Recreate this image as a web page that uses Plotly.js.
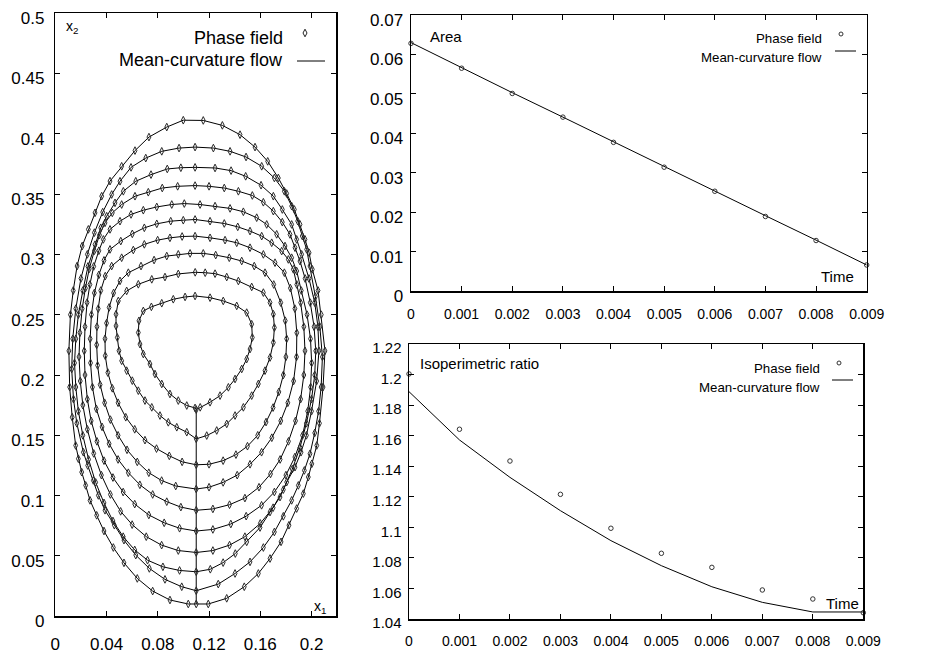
<!DOCTYPE html>
<html>
<head>
<meta charset="utf-8">
<script src="https://cdn.plot.ly/plotly-3.0.1.min.js"></script>
<style>
  html, body { margin: 0; padding: 0; background: #fff; }
  #chart { width: 952px; height: 654px; }
</style>
</head>
<body>
<div id="chart"></div>
<script>
// Interface positions (x1, x2) of the evolving front, outermost to innermost.
// Each front starts and ends at its lowest point on x1 = 0.11.
const front1 = [[0.110,0.0102],[0.1194,0.0102],[0.1338,0.0149],[0.1475,0.0245],[0.1585,0.0355],[0.1676,0.0479],[0.1762,0.0617],[0.1824,0.0755],[0.1884,0.0893],[0.1936,0.1017],[0.1975,0.1154],[0.2002,0.1264],[0.2041,0.1416],[0.2062,0.160],[0.2090,0.190],[0.2105,0.220],[0.2076,0.250],[0.2051,0.270],[0.2006,0.2876],[0.1981,0.3013],[0.1949,0.3124],[0.1910,0.3248],[0.1866,0.3372],[0.1806,0.3504],[0.1741,0.3633],[0.1658,0.3771],[0.1559,0.3889],[0.1442,0.3992],[0.1304,0.4069],[0.1155,0.4110],[0.0999,0.4112],[0.0870,0.4055],[0.0731,0.3972],[0.0622,0.3860],[0.0518,0.3730],[0.0427,0.3607],[0.0362,0.3482],[0.0310,0.3344],[0.0258,0.3207],[0.0210,0.3069],[0.0170,0.2903],[0.0140,0.270],[0.0118,0.250],[0.0106,0.220],[0.0112,0.190],[0.0132,0.165],[0.0159,0.1416],[0.0180,0.1306],[0.0206,0.1195],[0.0237,0.1085],[0.0271,0.0961],[0.0323,0.0837],[0.0380,0.0707],[0.0453,0.0570],[0.0536,0.0443],[0.0640,0.0314],[0.0760,0.0209],[0.0895,0.0135],[0.1038,0.0102],[0.110,0.0102]];
const front2 = [[0.110,0.0212],[0.1272,0.0267],[0.1403,0.0355],[0.1520,0.0451],[0.1624,0.0570],[0.1710,0.0699],[0.1780,0.0829],[0.1845,0.0961],[0.1897,0.1085],[0.1944,0.1209],[0.1988,0.1347],[0.2025,0.152],[0.2055,0.170],[0.2075,0.190],[0.2085,0.215],[0.2065,0.240],[0.2030,0.265],[0.1988,0.2903],[0.1962,0.3041],[0.1928,0.3152],[0.1892,0.3276],[0.1845,0.3400],[0.1788,0.3523],[0.1710,0.3633],[0.1611,0.3730],[0.1489,0.3807],[0.1364,0.3854],[0.1234,0.3881],[0.1091,0.3889],[0.0966,0.3881],[0.0831,0.3854],[0.0706,0.3798],[0.0591,0.3721],[0.0505,0.3606],[0.0440,0.3496],[0.0370,0.335],[0.0305,0.318],[0.0250,0.300],[0.0200,0.280],[0.0160,0.255],[0.0136,0.230],[0.0128,0.205],[0.0142,0.180],[0.0168,0.160],[0.0219,0.1360],[0.0253,0.1250],[0.0297,0.1126],[0.0336,0.1002],[0.0388,0.0879],[0.0461,0.0755],[0.0536,0.0631],[0.0628,0.0507],[0.0734,0.0397],[0.0856,0.0306],[0.0987,0.0245],[0.110,0.0212]];
const front3 = [[0.110,0.0369],[0.121,0.039],[0.131,0.0445],[0.1405,0.052],[0.1494,0.0617],[0.1598,0.0736],[0.1676,0.0864],[0.1754,0.0988],[0.1806,0.1112],[0.1871,0.1236],[0.1918,0.1360],[0.1960,0.150],[0.2000,0.170],[0.2040,0.195],[0.2058,0.220],[0.2050,0.240],[0.2025,0.260],[0.1980,0.280],[0.1923,0.300],[0.1884,0.3124],[0.1845,0.3248],[0.1772,0.3372],[0.1702,0.3482],[0.1606,0.3573],[0.1486,0.3647],[0.1372,0.3694],[0.1247,0.3716],[0.1091,0.3721],[0.0980,0.3718],[0.0874,0.3708],[0.0747,0.3661],[0.0628,0.3606],[0.0531,0.3523],[0.0466,0.3427],[0.0401,0.3316],[0.0355,0.322],[0.0310,0.308],[0.0255,0.290],[0.0215,0.270],[0.0180,0.250],[0.0160,0.230],[0.0150,0.210],[0.0160,0.190],[0.0180,0.170],[0.0215,0.150],[0.0260,0.130],[0.0315,0.111],[0.0380,0.094],[0.0450,0.079],[0.0530,0.066],[0.0620,0.055],[0.0720,0.0465],[0.0840,0.0410],[0.0970,0.0380],[0.110,0.0369]];
const front4 = [[0.110,0.0529],[0.123,0.0545],[0.136,0.059],[0.148,0.066],[0.160,0.077],[0.170,0.090],[0.178,0.105],[0.185,0.122],[0.191,0.140],[0.196,0.160],[0.200,0.180],[0.2025,0.200],[0.2033,0.220],[0.2020,0.240],[0.1990,0.260],[0.1950,0.280],[0.1910,0.2944],[0.1871,0.3055],[0.1832,0.3165],[0.1772,0.3267],[0.1702,0.3358],[0.1624,0.3432],[0.1538,0.3488],[0.1429,0.3523],[0.1319,0.3550],[0.1200,0.3564],[0.1091,0.3570],[0.0955,0.3564],[0.0835,0.3550],[0.0726,0.3515],[0.0622,0.3482],[0.0518,0.3413],[0.0445,0.3344],[0.0388,0.3261],[0.0345,0.316],[0.0305,0.303],[0.0265,0.288],[0.0235,0.272],[0.0210,0.255],[0.0192,0.235],[0.0185,0.215],[0.0195,0.195],[0.0215,0.175],[0.0250,0.155],[0.0300,0.135],[0.0360,0.117],[0.0430,0.101],[0.0510,0.087],[0.0600,0.076],[0.0710,0.066],[0.0830,0.059],[0.0960,0.0545],[0.110,0.0529]];
const front5 = [[0.110,0.0707],[0.123,0.072],[0.137,0.0765],[0.149,0.083],[0.161,0.092],[0.171,0.103],[0.180,0.117],[0.187,0.132],[0.193,0.150],[0.197,0.170],[0.1993,0.190],[0.2001,0.210],[0.1992,0.230],[0.1965,0.250],[0.1920,0.270],[0.1884,0.2862],[0.1845,0.2972],[0.1793,0.3069],[0.1728,0.3166],[0.1650,0.3248],[0.1572,0.3304],[0.1468,0.3353],[0.1364,0.3381],[0.1247,0.3400],[0.1130,0.3413],[0.1007,0.3421],[0.0909,0.3413],[0.0792,0.3393],[0.0687,0.3366],[0.0591,0.3331],[0.0505,0.3275],[0.0427,0.3207],[0.0375,0.3124],[0.0340,0.303],[0.0300,0.290],[0.0270,0.275],[0.0248,0.260],[0.0232,0.240],[0.0226,0.220],[0.0232,0.200],[0.0250,0.180],[0.0280,0.162],[0.0325,0.145],[0.0380,0.129],[0.0450,0.115],[0.0530,0.103],[0.0620,0.093],[0.0730,0.084],[0.0850,0.0775],[0.0970,0.073],[0.110,0.0707]];
const front6 = [[0.110,0.0879],[0.123,0.089],[0.136,0.0925],[0.148,0.098],[0.159,0.107],[0.168,0.118],[0.1755,0.130],[0.182,0.145],[0.1875,0.162],[0.1915,0.180],[0.1940,0.200],[0.1949,0.220],[0.1940,0.240],[0.1915,0.260],[0.1885,0.275],[0.1858,0.2876],[0.1819,0.2958],[0.1767,0.3027],[0.1689,0.3096],[0.1611,0.3151],[0.1520,0.3193],[0.1424,0.3228],[0.1319,0.3256],[0.1208,0.3275],[0.1091,0.3289],[0.0999,0.3283],[0.0901,0.3275],[0.0792,0.3253],[0.0695,0.3220],[0.0601,0.3170],[0.0511,0.3110],[0.0427,0.3041],[0.0380,0.295],[0.0340,0.283],[0.0305,0.268],[0.0282,0.250],[0.0272,0.230],[0.0275,0.210],[0.0290,0.190],[0.0320,0.172],[0.0365,0.157],[0.0420,0.143],[0.0490,0.130],[0.0570,0.119],[0.0660,0.109],[0.0760,0.101],[0.0870,0.095],[0.0980,0.0905],[0.110,0.0879]];
const front7 = [[0.110,0.1055],[0.120,0.107],[0.131,0.111],[0.142,0.117],[0.152,0.126],[0.161,0.136],[0.169,0.148],[0.176,0.162],[0.1815,0.177],[0.186,0.195],[0.1883,0.215],[0.1885,0.235],[0.1870,0.255],[0.1835,0.272],[0.1788,0.2848],[0.1715,0.2931],[0.1624,0.3000],[0.1520,0.3055],[0.1416,0.3096],[0.1325,0.3118],[0.1208,0.3137],[0.1091,0.3151],[0.0990,0.3148],[0.0895,0.3137],[0.0799,0.3118],[0.0695,0.3083],[0.0609,0.3036],[0.0518,0.2972],[0.0440,0.2903],[0.0390,0.282],[0.0355,0.270],[0.0335,0.255],[0.0325,0.240],[0.0323,0.225],[0.0330,0.208],[0.0350,0.192],[0.0385,0.177],[0.0430,0.163],[0.0490,0.150],[0.0560,0.138],[0.0640,0.128],[0.0730,0.119],[0.0830,0.1125],[0.0940,0.108],[0.110,0.1055]];
const front8 = [[0.110,0.1256],[0.120,0.126],[0.131,0.129],[0.141,0.134],[0.150,0.141],[0.158,0.150],[0.1645,0.161],[0.170,0.173],[0.1745,0.186],[0.178,0.200],[0.180,0.215],[0.1806,0.230],[0.1795,0.245],[0.176,0.260],[0.1705,0.275],[0.1637,0.2848],[0.1553,0.2903],[0.1455,0.2945],[0.1358,0.2972],[0.1252,0.2994],[0.1155,0.3008],[0.1052,0.3008],[0.0960,0.3000],[0.0870,0.2986],[0.0771,0.2953],[0.0669,0.2903],[0.0570,0.2848],[0.0505,0.278],[0.0455,0.268],[0.0420,0.256],[0.0400,0.243],[0.0388,0.230],[0.0390,0.216],[0.0410,0.202],[0.0445,0.189],[0.0490,0.177],[0.0550,0.165],[0.0620,0.155],[0.0700,0.146],[0.0790,0.139],[0.0890,0.133],[0.0990,0.128],[0.110,0.1256]];
const front9 = [[0.110,0.1471],[0.1182,0.1498],[0.1260,0.1540],[0.1338,0.1595],[0.1403,0.1664],[0.1468,0.1732],[0.1533,0.1829],[0.1585,0.1926],[0.1637,0.2036],[0.1676,0.2145],[0.1702,0.2269],[0.1710,0.2393],[0.1702,0.2504],[0.1676,0.2600],[0.1624,0.2683],[0.1533,0.2730],[0.1429,0.2779],[0.1338,0.2812],[0.1247,0.2840],[0.1170,0.2848],[0.1092,0.2851],[0.0960,0.2838],[0.0856,0.2812],[0.0753,0.2793],[0.0648,0.2752],[0.0557,0.2697],[0.0492,0.2614],[0.0474,0.2504],[0.0474,0.2407],[0.0484,0.2311],[0.0497,0.2201],[0.0518,0.2118],[0.0557,0.2036],[0.0601,0.1953],[0.0648,0.1870],[0.0700,0.1788],[0.0753,0.1732],[0.0817,0.1664],[0.0882,0.1608],[0.0948,0.1567],[0.1026,0.1526],[0.110,0.1471]];
const front10 = [[0.110,0.1713],[0.1131,0.1732],[0.1208,0.1774],[0.1286,0.1829],[0.1351,0.1898],[0.1403,0.1967],[0.1455,0.2050],[0.1494,0.2132],[0.1520,0.2215],[0.1538,0.2311],[0.1533,0.2421],[0.1494,0.2517],[0.1416,0.2573],[0.1311,0.2614],[0.1208,0.2641],[0.1091,0.2655],[0.1013,0.2647],[0.0921,0.2628],[0.0831,0.2595],[0.0750,0.2565],[0.0687,0.2531],[0.0653,0.2449],[0.0648,0.2352],[0.0661,0.2256],[0.0687,0.2174],[0.0739,0.2091],[0.0778,0.2008],[0.0831,0.1926],[0.0895,0.1843],[0.0960,0.1788],[0.1026,0.1747],[0.1091,0.1727],[0.110,0.1713]];

// Time series of the area and the isoperimetric ratio
const time    = [0, 0.001, 0.002, 0.003, 0.004, 0.005, 0.006, 0.007, 0.008, 0.009];
const areaPF  = [0.0628, 0.0565, 0.0501, 0.0441, 0.0377, 0.0314, 0.0253, 0.0189, 0.0128, 0.0066];
const areaMCF = [0.0630, 0.0566, 0.0503, 0.0441, 0.0378, 0.0315, 0.0253, 0.0191, 0.0129, 0.0066];
const isoPF   = [1.2004, 1.1642, 1.1434, 1.1216, 1.0994, 1.0830, 1.0738, 1.0590, 1.0531, 1.0441];
const isoMCF  = [1.1888, 1.1572, 1.1327, 1.1109, 1.0913, 1.0749, 1.0611, 1.0509, 1.0446, 1.0446];

const fronts = [front1, front2, front3, front4, front5, front6, front7, front8, front9, front10];

// One continuous polyline through all fronts (they are joined at their lowest points)
const lineX = [], lineY = [], dotX = [], dotY = [];
fronts.forEach(f => {
  f.forEach((p, i) => {
    lineX.push(p[0]); lineY.push(p[1]);
    if (i < f.length - 1) { dotX.push(p[0]); dotY.push(p[1]); }
  });
});

const FONT = 'Liberation Sans, Arial, Helvetica, sans-serif';
const W = 952, H = 654;
const fx = v => v / W;          // pixel -> paper x
const fy = v => 1 - v / H;      // pixel -> paper y

function axis(size, extra) {
  return Object.assign({
    showline: true, linecolor: '#000', linewidth: 1.5, mirror: 'ticks',
    ticks: 'inside', ticklen: 5, tickwidth: 1, tickcolor: '#000',
    showgrid: false, zeroline: false, fixedrange: true, ticklabeloverflow: 'allow',
    tickfont: { family: FONT, size: size, color: '#000' }
  }, extra);
}

const traces = [
  { x: lineX, y: lineY, xaxis: 'x', yaxis: 'y', mode: 'lines', type: 'scatter',
    line: { color: '#000', width: 1 }, hoverinfo: 'skip', name: 'Mean-curvature flow' },
  { x: dotX, y: dotY, xaxis: 'x', yaxis: 'y', mode: 'markers', type: 'scatter', cliponaxis: false,
    marker: { symbol: 'diamond-tall-open', size: 5.5, color: '#2a2a2a', line: { width: 1, color: '#2a2a2a' } },
    name: 'Phase field' },
  { x: time, y: areaMCF, xaxis: 'x2', yaxis: 'y2', mode: 'lines', type: 'scatter',
    line: { color: '#000', width: 1 }, cliponaxis: false, name: 'Mean-curvature flow' },
  { x: time, y: areaPF, xaxis: 'x2', yaxis: 'y2', mode: 'markers', type: 'scatter', cliponaxis: false,
    marker: { symbol: 'circle-open', size: 4.5, color: '#333', line: { width: 1, color: '#333' } }, name: 'Phase field' },
  { x: time, y: isoMCF, xaxis: 'x3', yaxis: 'y3', mode: 'lines', type: 'scatter',
    line: { color: '#000', width: 1 }, cliponaxis: false, name: 'Mean-curvature flow' },
  { x: time, y: isoPF, xaxis: 'x3', yaxis: 'y3', mode: 'markers', type: 'scatter', cliponaxis: false,
    marker: { symbol: 'circle-open', size: 4.5, color: '#333', line: { width: 1, color: '#333' } }, name: 'Phase field' }
];

function note(text, x, y, anchor, size) {
  return { text: text, xref: 'paper', yref: 'paper', x: fx(x), y: fy(y),
    xanchor: anchor, yanchor: 'middle', showarrow: false,
    font: { family: FONT, size: size, color: '#000' } };
}

const annotations = [
  note('x<sub>2</sub>', 64, 27, 'left', 14),
  note('x<sub>1</sub>', 312, 607, 'left', 14),
  note('Phase field', 285, 38, 'right', 18),
  note('Mean-curvature flow', 285, 60, 'right', 18),
  note('Area', 428, 36, 'left', 15),
  note('Time', 856, 276, 'right', 15),
  note('Phase field', 824, 39, 'right', 13.3),
  note('Mean-curvature flow', 824, 57, 'right', 13.3),
  note('Isoperimetric ratio', 418, 363, 'left', 15),
  note('Time', 861, 603, 'right', 15),
  note('Phase field', 822, 369, 'right', 13.3),
  note('Mean-curvature flow', 822, 387, 'right', 13.3)
];

function sampleLine(x0, x1, y) {
  return { type: 'line', xref: 'paper', yref: 'paper', x0: fx(x0), x1: fx(x1), y0: fy(y), y1: fy(y),
    line: { color: '#000', width: 1 } };
}
function sampleDiamond(x, y) {
  return { type: 'path', xref: 'paper', yref: 'paper', xsizemode: 'pixel', ysizemode: 'pixel',
    xanchor: fx(x), yanchor: fy(y), path: 'M0,3.8 L2,0 L0,-3.8 L-2,0 Z',
    line: { color: '#222', width: 1 } };
}
function sampleDot(x, y) {
  return { type: 'circle', xref: 'paper', yref: 'paper', xsizemode: 'pixel', ysizemode: 'pixel',
    xanchor: fx(x), yanchor: fy(y), x0: -2, x1: 2, y0: -2, y1: 2,
    line: { color: '#333', width: 1 } };
}

const shapes = [
  sampleDiamond(305, 33), sampleLine(297, 325, 61),
  sampleDot(841, 34), sampleLine(835, 856, 51),
  sampleDot(839, 363), sampleLine(832, 853, 380)
];

const layout = {
  width: W, height: H,
  margin: { l: 0, r: 0, t: 0, b: 0 },
  paper_bgcolor: '#fff', plot_bgcolor: '#fff',
  showlegend: false,
  font: { family: FONT, color: '#000' },
  xaxis: axis(17, { domain: [fx(55.3), fx(336)], range: [0, 0.2191], tick0: 0, dtick: 0.04, anchor: 'y',
    ticklabelstandoff: 12 }),
  yaxis: axis(17, { domain: [fy(616.3), fy(13)], range: [0, 0.50005], tick0: 0, dtick: 0.05, anchor: 'x',
    ticklabelshift: 5, ticklabelstandoff: 6 }),
  xaxis2: axis(14, { domain: [fx(411), fx(866.7)], range: [0, 0.009], tick0: 0, dtick: 0.001, anchor: 'y2',
    ticklabelstandoff: 10 }),
  yaxis2: axis(17, { domain: [fy(291), fy(15)], range: [0, 0.07], tick0: 0, dtick: 0.01, anchor: 'x2',
    ticklabelshift: 5, ticklabelstandoff: 3 }),
  xaxis3: axis(14, { domain: [fx(409), fx(863.3)], range: [0, 0.009], tick0: 0, dtick: 0.001, anchor: 'y3',
    ticklabelstandoff: 9 }),
  yaxis3: axis(15, { domain: [fy(619), fy(344)], range: [1.04, 1.22], tick0: 1.04, dtick: 0.02, anchor: 'x3',
    ticklabelshift: 4, ticklabelstandoff: 3 }),
  annotations: annotations,
  shapes: shapes
};

Plotly.newPlot('chart', traces, layout, { displayModeBar: false, staticPlot: true });
</script>
</body>
</html>
